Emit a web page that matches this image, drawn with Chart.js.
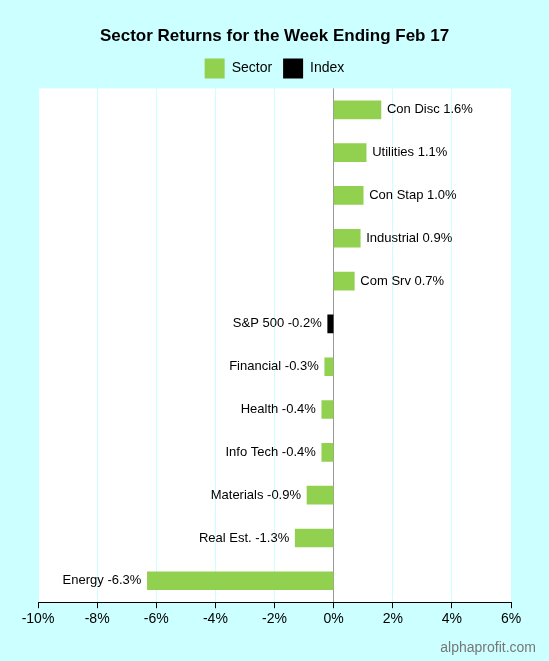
<!DOCTYPE html>
<html><head>
<script src="https://cdn.jsdelivr.net/npm/chart.js@4"></script>
<style>body{margin:0;background:#ccffff}canvas{display:block}</style>
</head><body>
<canvas id="c" width="549" height="661"></canvas>
<script>
const categories = ['Con Disc','Utilities','Con Stap','Industrial','Com Srv','S&P 500','Financial','Health','Info Tech','Materials','Real Est.','Energy'];
const returns = [1.6,1.1,1.0,0.9,0.7,-0.2,-0.3,-0.4,-0.4,-0.9,-1.3,-6.3];
const kinds = ['Sector','Sector','Sector','Sector','Sector','Index','Sector','Sector','Sector','Sector','Sector','Sector'];
const GREEN = '#92d050', BLACK = '#000000';

const bgPlugin = {
  id: 'bg',
  beforeDraw(chart) {
    const { ctx, chartArea: a } = chart;
    ctx.save();
    ctx.fillStyle = '#ccffff';
    ctx.fillRect(0, 0, chart.width, chart.height);
    ctx.fillStyle = '#ffffff';
    ctx.fillRect(a.left, a.top, a.right - a.left, a.bottom - a.top);
    ctx.restore();
  },
  afterDraw(chart) {
    const ctx = chart.ctx;
    ctx.save();
    ctx.font = '14px Arial, "Liberation Sans"';
    ctx.fillStyle = '#777';
    ctx.textAlign = 'right';
    ctx.textBaseline = 'alphabetic';
    ctx.fillText('alphaprofit.com', 536, 652);
    ctx.restore();
  }
};

const labelPlugin = {
  id: 'barLabels',
  afterDatasetsDraw(chart) {
    const ctx = chart.ctx;
    const meta = chart.getDatasetMeta(0);
    ctx.save();
    ctx.font = '13px Arial, "Liberation Sans"';
    ctx.fillStyle = '#000';
    ctx.textBaseline = 'middle';
    meta.data.forEach((bar, i) => {
      const v = returns[i];
      const txt = categories[i] + ' ' + v.toFixed(1) + '%';
      if (v >= 0) { ctx.textAlign = 'left'; ctx.fillText(txt, bar.x + 6, bar.y); }
      else { ctx.textAlign = 'right'; ctx.fillText(txt, bar.x - 6, bar.y); }
    });
    ctx.restore();
  }
};

new Chart(document.getElementById('c'), {
  type: 'bar',
  data: {
    labels: categories,
    datasets: [{
      data: returns,
      backgroundColor: kinds.map(k => k === 'Index' ? BLACK : GREEN),
      barThickness: 18
    }]
  },
  options: {
    indexAxis: 'y',
    responsive: false,
    animation: false,
    layout: { padding: { left: 38, right: 38, top: 0, bottom: 30 } },
    plugins: {
      title: { display: true, text: 'Sector Returns for the Week Ending Feb 17', color: '#000',
        font: { size: 17, weight: 'bold', family: 'Arial, "Liberation Sans"' }, padding: { top: 26, bottom: 1 } },
      legend: {
        labels: {
          color: '#000', font: { size: 14, family: 'Arial, "Liberation Sans"' },
          boxWidth: 20, boxHeight: 20, padding: 11,
          generateLabels: () => [
            { text: 'Sector', fillStyle: GREEN, strokeStyle: GREEN, lineWidth: 0 },
            { text: 'Index', fillStyle: BLACK, strokeStyle: BLACK, lineWidth: 0 }
          ]
        }
      },
      tooltip: { enabled: false }
    },
    scales: {
      x: {
        min: -10, max: 6,
        ticks: { stepSize: 2, color: '#000', font: { size: 14, family: 'Arial, "Liberation Sans"' }, callback: v => v + '%' },
        grid: { color: c => c.tick.value === 0 ? '#999999' : '#ccffff', drawTicks: true, tickLength: 6, tickColor: '#000' },
        border: { color: '#000' }
      },
      y: { display: false, grid: { display: false } }
    }
  },
  plugins: [bgPlugin, labelPlugin]
});
</script>
</body></html>
